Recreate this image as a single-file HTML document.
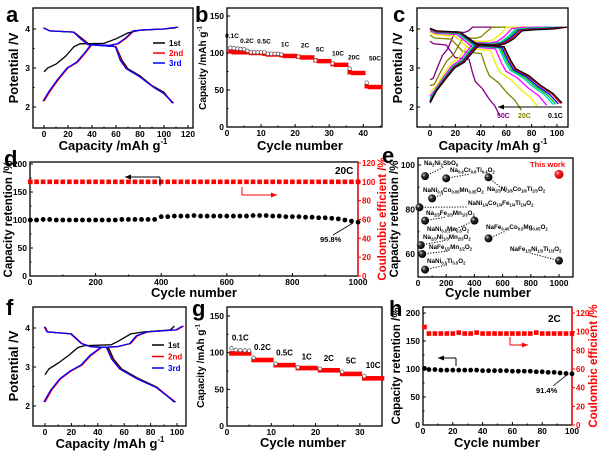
<!DOCTYPE html>
<html><head><meta charset="utf-8"><style>
html,body{margin:0;padding:0;background:#fff;}
svg{display:block;font-family:"Liberation Sans",Arial,sans-serif;}
text{font-weight:bold;}
</style></head><body>
<svg id="fig" width="600" height="452" viewBox="0 0 600 452" xmlns="http://www.w3.org/2000/svg">
<defs>
<radialGradient id="ball" cx="35%" cy="35%" r="65%"><stop offset="0" stop-color="#ddd"/><stop offset="0.35" stop-color="#333"/><stop offset="1" stop-color="#000"/></radialGradient>
<radialGradient id="rball" cx="35%" cy="35%" r="65%"><stop offset="0" stop-color="#fcc"/><stop offset="0.35" stop-color="#f22"/><stop offset="1" stop-color="#b00"/></radialGradient>
</defs>
</svg>
<script>
// ---------- DATA ----------
const aCharge1=[[0,2.9],[3,3.0],[10,3.1],[18,3.3],[25,3.55],[30,3.62],[50,3.63],[60,3.75],[70,3.9],[80,3.97],[100,4.0],[110,4.03]];
const aDis1=[[0,4.02],[5,3.95],[25,3.92],[32,3.75],[38,3.6],[60,3.55],[65,3.2],[70,2.98],[80,2.8],[90,2.55],[100,2.38],[107,2.1]];
const aCharge2=[[0,2.15],[5,2.4],[12,2.7],[20,3.0],[28,3.15],[35,3.4],[40,3.6],[55,3.58],[62,3.62],[68,3.75],[75,3.95],[85,3.98],[100,4.0],[112,4.05]];
const aDis2=[[0,4.03],[5,3.95],[25,3.92],[31,3.75],[37,3.6],[60,3.55],[64,3.2],[69,2.98],[80,2.78],[92,2.5],[100,2.35],[108,2.1]];
const bRates=['0.1C','0.2C','0.5C','1C','2C','5C','10C','20C','50C'];
const bCap=[101,100,98,96,94,89,84,73,54];
const bFirst=[107,103,101,98,95,90,86,79,60];
const cRates=['0.1C','0.2C','0.5C','1C','2C','5C','10C','20C','50C'];
const cColors=['#000','#f00','#00f','#0c0','#0cc','#f0f','#ee0','#808000','#800080'];
const cDisCap=[104,103,101,99,97,92,85,72,55];
const cChgCap=[108,106,104,102,100,96,90,73,55];
const cPol=[0,0.01,0.02,0.03,0.04,0.06,0.1,0.18,0.33];
const cStartV=[2.1,2.12,2.15,2.18,2.22,2.28,2.38,2.55,2.7];
const chgShape=[[0,2.15],[0.045,2.4],[0.11,2.7],[0.18,3.0],[0.25,3.15],[0.31,3.4],[0.36,3.6],[0.49,3.58],[0.55,3.62],[0.61,3.75],[0.67,3.95],[0.76,3.98],[0.9,4.0],[1,4.05]];
const disShape=[[0,4.02],[0.05,3.95],[0.23,3.92],[0.3,3.75],[0.36,3.6],[0.56,3.55],[0.61,3.2],[0.65,2.98],[0.75,2.8],[0.84,2.55],[0.93,2.35],[1,2.1]];
const dCycles=[1,20,40,60,80,100,120,140,160,180,200,220,240,260,280,300,320,340,360,380,400,420,440,460,480,500,520,540,560,580,600,620,640,660,680,700,720,740,760,780,800,820,840,860,880,900,920,940,960,980,1000];
const dRet=[100,100,101,101,100,100,100,100,100,100,100,100,100,100,101,101,101,101,101,101,106,106,107,107,107,108,107,107,107,107,107,107,107,107,108,108,108,107,107,106,106,106,105,105,104,104,103,102,100,98,96];
const dCE=dCycles.map(()=>100);
const eCycles=[50,200,500,100,10,50,400,500,20,30,50,1000];
const eRet=[95,94,94.5,85,81,75,75,67,64,60,53,57];
const eLabels=['Na{2}Ni{2}SbO{6}','Na{0.6}Cr{0.6}Ti{0.4}O{2}','Na{2/3}Ni{1/6}Co{1/6}Ti{2/3}O{2}','NaNi{0.6}Co{0.05}Mn{0.35}O{2}','NaNi{1/4}Co{1/4}Fe{1/4}Ti{1/4}O{2}','Na{2/3}Fe{2/3}Mn{1/3}O{2}','NaNi{0.5}Mn{0.5}O{2}','NaFe{0.45}Co{0.5}Mg{0.05}O{2}','Na{2/3}Ni{1/3}Mn{2/3}O{2}','NaFe{1/2}Mn{1/2}O{2}','NaNi{0.5}Ti{0.5}O{2}','NaFe{1/3}Ni{1/3}Ti{1/3}O{2}'];
const eLabelPos=[[424,165],[450,172],[487,191],[423,192],[468,205],[426,215],[427,231],[486,229],[423,239],[429,249],[427,263],[510,251]];
const eThisCycle=1000, eThisRet=95.8;
const fCharge1=[[0,2.8],[3,2.95],[10,3.1],[18,3.3],[25,3.5],[30,3.55],[50,3.57],[55,3.65],[65,3.85],[75,3.9],[95,3.95],[98,4.05]];
const fDis1=[[0,4.03],[2,3.9],[20,3.85],[28,3.6],[35,3.52],[48,3.5],[52,3.2],[58,2.95],[70,2.72],[85,2.48],[98,2.1]];
const fCharge2=[[0,2.1],[5,2.4],[12,2.7],[20,2.9],[28,3.05],[35,3.3],[43,3.5],[55,3.52],[65,3.6],[70,3.8],[78,3.9],[100,3.95],[105,4.05]];
const fDis2=[[0,4.03],[2,3.9],[20,3.85],[28,3.6],[35,3.52],[47,3.5],[51,3.2],[57,2.95],[70,2.7],[85,2.47],[99,2.1]];
const gRates=['0.1C','0.2C','0.5C','1C','2C','5C','10C'];
const gCap=[99,90,83,79,76,71,65];
const gFirst=[106,93,85,80,78,74,68];
const hCycles=[1,4,8,12,16,20,24,28,32,36,40,44,48,52,56,60,64,68,72,76,80,84,88,92,96,100];
const hRet=[101,99,99,98,98,98,98,98,98,98,97,97,97,97,97,96,96,96,96,95,95,94,94,93,92,91.4];
const hCE=[105,98,98,98,98,98,99,98,98,99,98,98,98,98,98,98,98,98,98,99,98,98,98,98,98,98];

// ---------- HELPERS ----------
const svg=document.getElementById('fig');
const NS='http://www.w3.org/2000/svg';
function mk(tag,at,parent){const e=document.createElementNS(NS,tag);for(const k in at)e.setAttribute(k,at[k]);(parent||svg).appendChild(e);return e;}
function txt(s,x,y,size,at,parent){const e=mk('text',Object.assign({x:x,y:y,'font-size':size},at||{}),parent);e.textContent=s;return e;}
function lin(d0,d1,r0,r1){return v=>r0+(v-d0)/(d1-d0)*(r1-r0);}
function group(name){const g=mk('g',{});return g;}
function axes(o,g){
  mk('rect',{x:o.l,y:o.t,width:o.r-o.l,height:o.b-o.t,fill:'none',stroke:'#000','stroke-width':1.3},g);
  o.xt.forEach(v=>{const x=o.X(v);mk('line',{x1:x,x2:x,y1:o.b,y2:o.b-3,stroke:'#000'},g);txt(String(v),x,o.b+9,8.5,{'text-anchor':'middle'},g);});
  (o.xm||[]).forEach(v=>{const x=o.X(v);mk('line',{x1:x,x2:x,y1:o.b,y2:o.b-1.5,stroke:'#000'},g);});
  o.yt.forEach(v=>{const y=o.Y(v);mk('line',{x1:o.l,x2:o.l+3,y1:y,y2:y,stroke:'#000'},g);txt(String(v),o.l-3,y+3,8.5,{'text-anchor':'end'},g);});
  (o.ym||[]).forEach(v=>{const y=o.Y(v);mk('line',{x1:o.l,x2:o.l+1.5,y1:y,y2:y,stroke:'#000'},g);});
}
function rightAxis(o,Y2,ticks,g){
  mk('line',{x1:o.r,x2:o.r,y1:o.t,y2:o.b,stroke:'#f00','stroke-width':1.3},g);
  ticks.forEach(v=>{const y=Y2(v);mk('line',{x1:o.r,x2:o.r+3,y1:y,y2:y,stroke:'#f00'},g);txt(String(v),o.r+4,y+3,8,{fill:'#f00'},g);});
}
function curve(pts,X,Y,color,g,name){const d=pts.map((p,i)=>(i?'L':'M')+X(p[0]).toFixed(1)+' '+Y(p[1]).toFixed(1)).join(' ');const e=mk('path',{d:d,fill:'none',stroke:color,'stroke-width':1.3},g);return e;}
function ytitle(s,x,y,size,g,color){return txt(s,x,y,size,{transform:`rotate(-90 ${x} ${y})`,'text-anchor':'middle',fill:color||'#000'},g);}
function capTitle(x,y,size,g){const t=txt('Capacity /mAh g',x,y,size,{'text-anchor':'middle'},g);const s=mk('tspan',{'font-size':size*0.6,dy:-size*0.45},t);s.textContent='-1';return t;}
function capTitleV(x,y,size,g){const t=txt('Capacity /mAh g',x,y,size,{transform:`rotate(-90 ${x} ${y})`,'text-anchor':'middle'},g);const s=mk('tspan',{'font-size':size*0.6,dy:-size*0.45},t);s.textContent='-1';return t;}
function letter(s,x,y){const t=txt(s,x,y,22,{});}
function arrow(x1,y1,x2,y2,color,g){mk('line',{x1:x1,y1:y1,x2:x2,y2:y2,stroke:color,'stroke-width':1},g);const a=Math.atan2(y2-y1,x2-x1),L=6,W=2.5;const p=[[x2,y2],[x2-L*Math.cos(a)+W*Math.sin(a),y2-L*Math.sin(a)-W*Math.cos(a)],[x2-L*Math.cos(a)-W*Math.sin(a),y2-L*Math.sin(a)+W*Math.cos(a)]];mk('polygon',{points:p.map(q=>q.join(',')).join(' '),fill:color},g);}
function legend(items,x,y0,dy,g){items.forEach((it,i)=>{const y=y0+i*dy;const l=mk('line',{x1:x,x2:x+12,y1:y,y2:y,stroke:it[1],'stroke-width':1.5},g);const t=txt(it[0],x+16,y+3,8,{fill:it[1]},g);});}
function sub(s,x,y,size,color,g){const t=txt('',x,y,size,{fill:color||'#000','font-weight':'normal'},g);const parts=s.split(/(\{[^}]*\})/);let down=false;parts.forEach(p=>{if(!p)return;const isSub=p[0]==='{';const ts=mk('tspan',{},t);if(isSub){ts.setAttribute('font-size',size*0.65);ts.setAttribute('dy',down?0:size*0.25);down=true;ts.textContent=p.slice(1,-1);}else{ts.setAttribute('dy',down?-size*0.25:0);down=false;ts.textContent=p;}});return t;}

// ---------- PANEL A ----------
(function(){const g=group('panel-a');const o={l:33,r:193,t:8,b:128};o.X=lin(0,120,44,188);o.Y=lin(2,4,107,29);o.xt=[0,20,40,60,80,100,120];o.yt=[2,3,4];o.xm=[10,30,50,70,90,110];o.ym=[2.5,3.5];
axes(o,g);
curve(aCharge1,o.X,o.Y,'#000',g,'curve-1st-charge');curve(aDis1,o.X,o.Y,'#000',g,'curve-1st-discharge');
curve(aCharge2,o.X,o.Y,'#f00',g,'curve-2nd-charge');curve(aDis2,o.X,o.Y,'#f00',g,'curve-2nd-discharge');
curve(aCharge2.map(p=>[p[0]-0.8,p[1]]),o.X,o.Y,'#00f',g,'curve-3rd-charge');curve(aDis2.map(p=>[p[0]-0.5,p[1]]),o.X,o.Y,'#00f',g,'curve-3rd-discharge');
legend([['1st','#000'],['2nd','#f00'],['3rd','#00f']],153,43,10,g);
ytitle('Potential /V',18,68,13,g);capTitle(113,150,13,g);})();
letter('a',6,22);

// ---------- PANEL B ----------
(function(){const g=group('panel-b');const o={l:227,r:382,t:8,b:127};o.X=lin(0,45.5,227,382);o.Y=lin(0,150,127,16);o.xt=[0,10,20,30,40];o.yt=[0,50,100,150];o.xm=[5,15,25,35,45];o.ym=[25,75,125];
axes(o,g);
bRates.forEach((r,i)=>{for(let k=0;k<5;k++){const c=i*5+k+1;const v=k===0?bCap[i]+1:bCap[i];const s=mk('rect',{x:o.X(c)-2.2,y:o.Y(v)-2.2,width:4.4,height:4.4,fill:'#f00'},g);
 const cv=k===0?bFirst[i]:(i===0?bFirst[i]-k*0.5:bCap[i]+1);
 if(k===0||i<3){const ci=mk('circle',{cx:o.X(c),cy:o.Y(cv),r:1.8,fill:'#fff',stroke:'#555','stroke-width':0.7},g);}}
 const lx=[232,247,264,285,305,320,338,354,375][i],ly=o.Y(bFirst[i])-[10,8,9,8,9,9,8,9,22][i];txt(r,lx,ly,6.5,{'text-anchor':'middle'},g);});
capTitleV(206,68,10,g);txt('Cycle number',300,150,13,{'text-anchor':'middle'},g);})();
letter('b',195,22);

// ---------- PANEL C ----------
(function(){const g=group('panel-c');const o={l:417,r:568,t:8,b:127};o.X=lin(0,100,430,557);o.Y=lin(2,4,107,29);o.xt=[0,20,40,60,80,100];o.yt=[2,3,4];o.xm=[10,30,50,70,90];o.ym=[2.5,3.5];
axes(o,g);
for(let i=cRates.length-1;i>=0;i--){const ch=chgShape.map((p,j)=>[p[0]*cChgCap[i],j===0?cStartV[i]:Math.min(p[1]+cPol[i],4.05)]);const di=disShape.map(p=>[p[0]*cDisCap[i],p[1]-cPol[i]]);
 curve(ch,o.X,o.Y,cColors[i],g,'charge-'+cRates[i]);curve(di,o.X,o.Y,cColors[i],g,'discharge-'+cRates[i]);}
arrow(562,107,498,107,'#000',g);txt('50C',497,118,7,{fill:'#800080'},g);txt('20C',518,118,7,{fill:'#808000'},g);txt('0.1C',548,118,7,{},g);
ytitle('Potential /V',402,68,13,g);capTitle(493,150,13,g);})();
letter('c',393,22);

// ---------- PANEL D ----------
(function(){const g=group('panel-d');const o={l:30,r:358,t:162,b:276};o.X=lin(0,1000,30,358);o.Y=lin(0,200,276,164);o.xt=[0,200,400,600,800,1000];o.yt=[0,50,100,150,200];o.xm=[100,300,500,700,900];o.ym=[25,75,125,175];
axes(o,g);const Y2=lin(0,120,276,163);rightAxis(o,Y2,[0,20,40,60,80,100,120],g);
dCycles.forEach((c,i)=>{const s=mk('rect',{x:o.X(c)-2.3,y:Y2(dCE[i])-2.3,width:4.6,height:4.6,fill:'#f00'},g);
 const p=mk('circle',{cx:o.X(c),cy:o.Y(dRet[i]),r:2.4,fill:'#000'},g);});
mk('polyline',{points:'160,186 160,177',fill:'none',stroke:'#000'},g);arrow(160,177,125,177,'#000',g);
mk('polyline',{points:'242,187 242,195',fill:'none',stroke:'#f00'},g);arrow(242,195,277,195,'#f00',g);
txt('20C',335,174,10,{},g);txt('95.8%',320,242,7.5,{},g);mk('line',{x1:333,y1:235,x2:353,y2:223,stroke:'#000','stroke-width':0.8},g);
ytitle('Capacity retention /%',12,219,11.5,g);ytitle('Coulombic efficient /%',386,219,11.5,g,'#f00');txt('Cycle number',194,297,13,{'text-anchor':'middle'},g);})();
letter('d',4,166);

// ---------- PANEL E ----------
(function(){const g=group('panel-e');const o={l:418,r:573,t:158,b:277};o.X=lin(0,1000,418,559);o.Y=lin(60,100,254,165);o.xt=[0,200,400,600,800,1000];o.yt=[60,80,100];o.xm=[100,300,500,700,900];o.ym=[70,90];
axes(o,g);
eCycles.forEach((c,i)=>{const x=o.X(c),y=o.Y(eRet[i]);const lp=eLabelPos[i];mk('line',{x1:x,y1:y,x2:lp[0]+(lp[0]>x+20?0:20),y2:lp[1]+2,stroke:'#000','stroke-dasharray':'1.2 1.5','stroke-width':1},g);
 const b=mk('circle',{cx:x,cy:y,r:4,fill:'url(#ball)'},g);
 const t=sub(eLabels[i],lp[0],lp[1],6.3,'#000',g);});
const tw=mk('circle',{cx:o.X(eThisCycle),cy:o.Y(eThisRet),r:4.5,fill:'url(#rball)'},g);
txt('This work',530,167,7.5,{fill:'#f00'},g);
ytitle('Capacity retention /%',398,219,11.5,g);txt('Cycle number',488,297,13,{'text-anchor':'middle'},g);})();
letter('e',382,163);

// ---------- PANEL F ----------
(function(){const g=group('panel-f');const o={l:33,r:186,t:307,b:426};o.X=lin(0,100,45,177);o.Y=lin(2,4,406,328);o.xt=[0,20,40,60,80,100];o.yt=[2,3,4];o.xm=[10,30,50,70,90];o.ym=[2.5,3.5];
axes(o,g);
curve(fCharge1,o.X,o.Y,'#000',g,'curve-1st-charge');curve(fDis1,o.X,o.Y,'#000',g,'curve-1st-discharge');
curve(fCharge2,o.X,o.Y,'#f00',g,'curve-2nd-charge');curve(fDis2,o.X,o.Y,'#f00',g,'curve-2nd-discharge');
curve(fCharge2.map(p=>[p[0]-0.8,p[1]]),o.X,o.Y,'#00f',g,'curve-3rd-charge');curve(fDis2.map(p=>[p[0]-0.5,p[1]]),o.X,o.Y,'#00f',g,'curve-3rd-discharge');
legend([['1st','#000'],['2nd','#f00'],['3rd','#00f']],152,345,11.5,g);
ytitle('Potential /V',18,366,13,g);capTitle(110,448,13,g);})();
letter('f',6,315);

// ---------- PANEL G ----------
(function(){const g=group('panel-g');const o={l:227,r:382,t:307,b:426};o.X=lin(0,35,227,382);o.Y=lin(0,150,426,316);o.xt=[0,10,20,30];o.yt=[0,50,100,150];o.xm=[5,15,25,35];o.ym=[25,75,125];
axes(o,g);
gRates.forEach((r,i)=>{for(let k=0;k<5;k++){const c=i*5+k+1;const s=mk('rect',{x:o.X(c)-2.3,y:o.Y(gCap[i])-2.3,width:4.6,height:4.6,fill:'#f00'},g);
 if(k===0||i===0){const cv=k===0?gFirst[i]:gFirst[i]-2-k*0.3;const ci=mk('circle',{cx:o.X(c),cy:o.Y(cv),r:1.8,fill:'#fff',stroke:'#555','stroke-width':0.7},g);}}
 txt(r,o.X(i*5+3),o.Y(gFirst[i])-8,8,{'text-anchor':'middle'},g);});
capTitleV(204,366,10,g);txt('Cycle number',303,447,13,{'text-anchor':'middle'},g);})();
letter('g',192,316);

// ---------- PANEL H ----------
(function(){const g=group('panel-h');const o={l:423,r:572,t:307,b:425};o.X=lin(0,100,423,572);o.Y=lin(0,200,425,313);o.xt=[0,20,40,60,80,100];o.yt=[0,50,100,150,200];o.xm=[10,30,50,70,90];o.ym=[25,75,125,175];
axes(o,g);const Y2=lin(0,120,425,313);rightAxis(o,Y2,[0,20,40,60,80,100,120],g);
hCycles.forEach((c,i)=>{const s=mk('rect',{x:o.X(c)-2.3,y:Y2(hCE[i])-2.3,width:4.6,height:4.6,fill:'#f00'},g);
 const p=mk('circle',{cx:o.X(c),cy:o.Y(hRet[i]),r:2.4,fill:'#000'},g);});
mk('polyline',{points:'456,366 456,358',fill:'none',stroke:'#000'},g);arrow(456,358,438,358,'#000',g);
mk('polyline',{points:'510,337 510,345',fill:'none',stroke:'#f00'},g);arrow(510,345,528,345,'#f00',g);
txt('2C',548,322,10,{},g);txt('91.4%',536,393,7.5,{},g);mk('line',{x1:553,y1:386,x2:568,y2:374,stroke:'#000','stroke-width':0.8},g);
ytitle('Capacity retention /%',400,366,11.5,g);ytitle('Coulombic efficient /%',597,366,11.5,g,'#f00');txt('Cycle number',497,447,13,{'text-anchor':'middle'},g);})();
letter('h',389,316);
</script>
</body></html>
